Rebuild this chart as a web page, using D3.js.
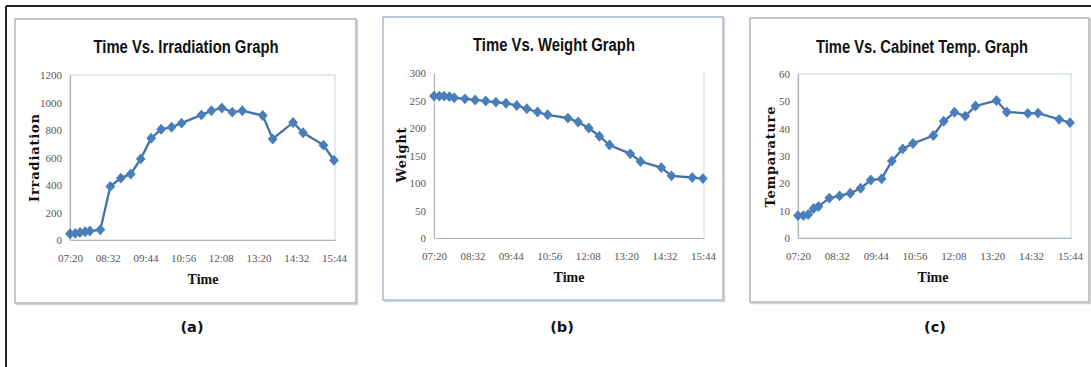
<!DOCTYPE html>
<html>
<head>
<meta charset="utf-8">
<script src="https://cdn.jsdelivr.net/npm/d3@7"></script>
<style>
  body { margin: 0; background: #fff; }
  svg { display: block; }
</style>
</head>
<body>
<svg width="1091" height="367"></svg>
<script>
var times = ["07:20","07:30","07:39","07:49","07:58","08:18","08:37","08:57","09:16","09:35",
             "09:55","10:14","10:34","10:53","11:31","11:50","12:10","12:30","12:49","13:28",
             "13:47","14:26","14:45","15:24","15:44"];

var irradiation = [45, 48, 55, 60, 65, 75, 390, 450, 480, 590,
                   740, 805, 820, 850, 910, 940, 960, 930, 940, 905,
                   735, 855, 780, 690, 580];

var weight = [258, 258, 258, 257, 255, 253, 251, 249, 247, 245,
              241, 235, 229, 224, 218, 211, 200, 185, 169, 153,
              139, 128, 113, 110, 108];

var temperature = [8.2, 8.2, 8.6, 10.8, 11.5, 14.6, 15.4, 16.4, 18.2, 21.2,
                   21.7, 28.2, 32.6, 34.6, 37.5, 42.7, 46, 44.6, 48.3, 50.3,
                   46.1, 45.6, 45.7, 43.4, 42.2];

var xTickLabels = ["07:20","08:32","09:44","10:56","12:08","13:20","14:32","15:44"];
var xDomain = ["07:20","15:46"];

var irrTicks = [0, 200, 400, 600, 800, 1000, 1200];
var weightTicks = [0, 50, 100, 150, 200, 250, 300];
var tempTicks = [0, 10, 20, 30, 40, 50, 60];

var parseT = d3.timeParse("%H:%M");
var fmtT = d3.timeFormat("%H:%M");

var svg = d3.select('svg');

// outer frame: only top and left edges show
svg.append('line').attr('x1', 6).attr('y1', 6).attr('x2', 1091).attr('y2', 6)
    .style('stroke', '#222').style('stroke-width', 2);
svg.append('line').attr('x1', 6).attr('y1', 6).attr('x2', 6).attr('y2', 367)
    .style('stroke', '#222').style('stroke-width', 2);

// diamond marker, a bit wider than d3's own
var diamond = {
    draw: function(ctx, size) {
        var h = Math.sqrt(size) * 0.56, w = h * 0.9;
        ctx.moveTo(0, -h); ctx.lineTo(w, 0); ctx.lineTo(0, h); ctx.lineTo(-w, 0); ctx.closePath();
    }
};

function drawPanel(p) {
    var g = svg.append('g').attr('class', p.name);

    // chart box with faint shadow
    g.append('rect')
        .attr('x', p.box[0] + 1.5).attr('y', p.box[1] + 1.5)
        .attr('width', p.box[2] - p.box[0]).attr('height', p.box[3] - p.box[1])
        .style('fill', 'none').style('stroke', '#d4d4d4').style('stroke-width', 1.5);
    g.append('rect')
        .attr('x', p.box[0]).attr('y', p.box[1])
        .attr('width', p.box[2] - p.box[0]).attr('height', p.box[3] - p.box[1])
        .style('fill', '#fff').style('stroke', p.boxColor).style('stroke-width', 1.2);

    var x = d3.scaleTime()
        .domain(xDomain.map(parseT))
        .range([p.plot[0], p.plot[2]]);
    var y = d3.scaleLinear()
        .domain([0, d3.max(p.ticks)])
        .range([p.plot[3], p.plot[1]]);

    // plot area border
    if (p.plotBorder) {
        g.append('rect')
            .attr('x', p.plot[0]).attr('y', p.plot[1])
            .attr('width', p.plot[2] - p.plot[0]).attr('height', p.plot[3] - p.plot[1])
            .style('fill', 'none').style('stroke', '#c5d3e2').style('stroke-width', 1);
    } else {
        g.append('line')
            .attr('x1', p.plot[2]).attr('x2', p.plot[2])
            .attr('y1', p.plot[1]).attr('y2', p.plot[3])
            .style('stroke', '#d2dbe5').style('stroke-width', 1);
    }

    var xAxis = g.append('g')
        .attr('transform', 'translate(0,' + p.plot[3] + ')')
        .call(d3.axisBottom(x)
            .tickValues(xTickLabels.map(parseT))
            .tickFormat(fmtT)
            .tickSize(0)
            .tickPadding(14));
    var yAxis = g.append('g')
        .attr('transform', 'translate(' + p.plot[0] + ',0)')
        .call(d3.axisLeft(y)
            .tickValues(p.ticks)
            .tickFormat(d3.format('d'))
            .tickSize(0)
            .tickPadding(8));

    [xAxis, yAxis].forEach(function(a) {
        a.select('.domain').style('stroke', '#a9b4c0').style('stroke-width', 1.2);
        a.selectAll('text')
            .style('font-family', '"Liberation Serif", serif')
            .style('font-size', '11px')
            .style('fill', '#555');
    });

    var line = d3.line()
        .x(function(d) { return x(d.t); })
        .y(function(d) { return y(d.v); });

    var pts = times.map(function(t, i) { return { t: parseT(t), v: p.values[i] }; });

    g.append('path')
        .datum(pts)
        .attr('d', line)
        .style('fill', 'none')
        .style('stroke', '#4472a8')
        .style('stroke-width', 2.3);

    g.selectAll('path.mark')
        .data(pts)
        .enter()
            .append('path')
            .attr('class', 'mark')
            .attr('d', d3.symbol().type(diamond).size(95))
            .attr('transform', function(d) { return 'translate(' + x(d.t) + ',' + y(d.v) + ')'; })
            .style('fill', '#4a7ebb');

    // titles
    g.append('text')
        .attr('x', p.titleX).attr('y', p.titleY)
        .attr('text-anchor', 'middle')
        .attr('textLength', p.titleW).attr('lengthAdjust', 'spacingAndGlyphs')
        .style('font-family', '"Liberation Sans", sans-serif')
        .style('font-weight', 'bold')
        .style('font-size', '18px')
        .style('fill', '#111')
        .text(p.title);

    g.append('text')
        .attr('x', p.timeX).attr('y', p.plot[3] + 44)
        .attr('text-anchor', 'middle')
        .style('font-family', '"Liberation Serif", serif')
        .style('font-weight', 'bold')
        .style('font-size', '14px')
        .style('fill', '#111')
        .text('Time');

    g.append('text')
        .attr('transform', 'translate(' + p.yLabelX + ',' + p.yLabelY + ') rotate(-90)')
        .attr('text-anchor', 'middle')
        .attr('textLength', p.yLabelW).attr('lengthAdjust', 'spacing')
        .style('font-family', '"DejaVu Serif", serif')
        .style('font-weight', 'bold')
        .style('font-size', '13px')
        .style('fill', '#111')
        .text(p.yLabel);

    g.append('text')
        .attr('x', p.capX).attr('y', 332)
        .attr('text-anchor', 'middle')
        .style('font-family', '"DejaVu Sans", sans-serif')
        .style('font-weight', 'bold')
        .style('font-size', '14.5px')
        .style('fill', '#111')
        .text(p.caption);
}

drawPanel({
    name: 'irr', values: irradiation, ticks: irrTicks,
    box: [15, 19, 356, 303], boxColor: '#a3a3a3', plot: [70, 75, 335, 240], plotBorder: true,
    title: 'Time Vs. Irradiation Graph', titleX: 186, titleY: 53, titleW: 185,
    timeX: 203, yLabel: 'Irradiation', yLabelX: 39, yLabelY: 158, yLabelW: 88,
    caption: '(a)', capX: 192
});
drawPanel({
    name: 'weight', values: weight, ticks: weightTicks,
    box: [383, 17, 723, 300], boxColor: '#93a8be', plot: [434, 73, 704, 238], plotBorder: false,
    title: 'Time Vs. Weight Graph', titleX: 554, titleY: 51, titleW: 162,
    timeX: 569, yLabel: 'Weight', yLabelX: 406, yLabelY: 155, yLabelW: 55,
    caption: '(b)', capX: 562
});
drawPanel({
    name: 'temp', values: temperature, ticks: tempTicks,
    box: [750, 18, 1089, 302], boxColor: '#a3a3a3', plot: [798, 74, 1071, 238], plotBorder: true,
    title: 'Time Vs. Cabinet Temp. Graph', titleX: 922, titleY: 53, titleW: 212,
    timeX: 933, yLabel: 'Temparature', yLabelX: 775, yLabelY: 157, yLabelW: 101,
    caption: '(c)', capX: 935
});
</script>
</body>
</html>
